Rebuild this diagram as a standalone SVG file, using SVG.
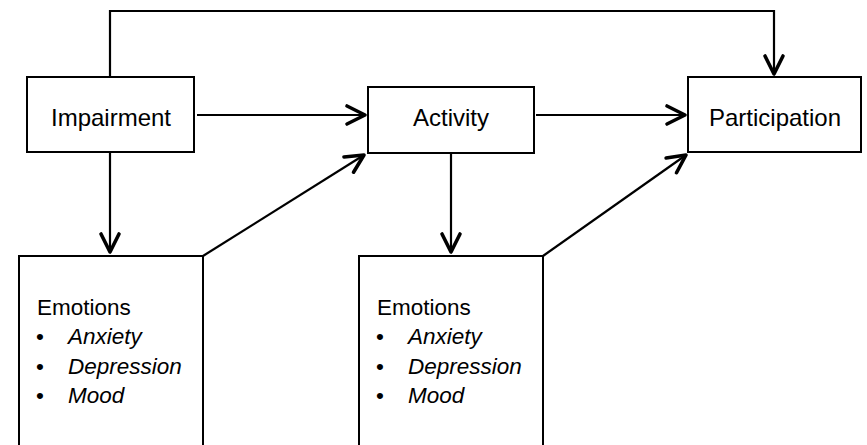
<svg xmlns="http://www.w3.org/2000/svg" width="867" height="445" viewBox="0 0 867 445">
<style>
.box{fill:#fff;stroke:#000;stroke-width:2}
.lbl{font-family:"Liberation Sans",Arial,sans-serif;font-size:24px;fill:#000}
.em{font-family:"Liberation Sans",Arial,sans-serif;font-size:22.5px;fill:#000}
.it{font-style:italic}
.conn{fill:none;stroke:#000;stroke-width:2.2}
</style>
<defs>
<marker id="arr" viewBox="-22 -12 26 24" markerWidth="26" markerHeight="24" refX="0" refY="0" markerUnits="userSpaceOnUse" orient="auto">
<path d="M-18,-9 L0,0 L-18,9" fill="none" stroke="#000" stroke-width="3.6" stroke-linecap="round" stroke-linejoin="round"/>
</marker>
</defs>
<g id="connectors">
<path class="conn" d="M110,77 V11 H774 V74" marker-end="url(#arr)"/>
<path class="conn" d="M197,115 H365" marker-end="url(#arr)"/>
<path class="conn" d="M536,115 H685" marker-end="url(#arr)"/>
<path class="conn" d="M110,153 V252" marker-end="url(#arr)"/>
<path class="conn" d="M451,153 V252" marker-end="url(#arr)"/>
<path class="conn" d="M203,256 L364,155" marker-end="url(#arr)"/>
<path class="conn" d="M543,256 L686,155" marker-end="url(#arr)"/>
</g>
<g id="impairment">
<rect class="box" x="27" y="77" width="167" height="75"/>
<text class="lbl" x="111" y="126" text-anchor="middle">Impairment</text>
</g>
<g id="activity">
<rect class="box" x="368" y="87" width="166" height="66"/>
<text class="lbl" x="451" y="126" text-anchor="middle">Activity</text>
</g>
<g id="participation">
<rect class="box" x="688" y="77" width="173" height="75"/>
<text class="lbl" x="775" y="126" text-anchor="middle">Participation</text>
</g>
<g id="emotions1">
<rect class="box" x="19" y="256" width="184" height="200"/>
<text class="em" x="37" y="315">Emotions</text>
<text class="em" x="36" y="344">•</text>
<text class="em it" x="68" y="344">Anxiety</text>
<text class="em" x="36" y="374">•</text>
<text class="em it" x="68" y="374">Depression</text>
<text class="em" x="36" y="403">•</text>
<text class="em it" x="68" y="403">Mood</text>
</g>
<g id="emotions2">
<rect class="box" x="359" y="256" width="184" height="200"/>
<text class="em" x="377" y="315">Emotions</text>
<text class="em" x="376" y="344">•</text>
<text class="em it" x="408" y="344">Anxiety</text>
<text class="em" x="376" y="374">•</text>
<text class="em it" x="408" y="374">Depression</text>
<text class="em" x="376" y="403">•</text>
<text class="em it" x="408" y="403">Mood</text>
</g>
</svg>
